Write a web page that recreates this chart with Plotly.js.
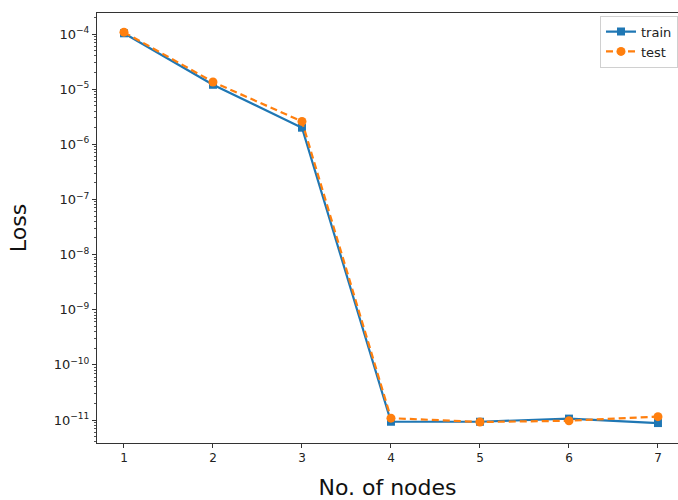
<!DOCTYPE html>
<html>
<head>
<meta charset="utf-8">
<script src="https://cdn.plot.ly/plotly-3.0.1.min.js"></script>
<style>html,body{margin:0;padding:0;background:#fff;}#chart{width:678px;height:500px;}</style>
</head>
<body>
<div id="chart"></div>
<script>
const nodes = [1, 2, 3, 4, 5, 6, 7];
const trainLoss = [1.03e-4, 1.2e-5, 2.0e-6, 9.3e-12, 9.3e-12, 1.06e-11, 8.8e-12];
const testLoss = [1.08e-4, 1.35e-5, 2.6e-6, 1.08e-11, 9.2e-12, 9.7e-12, 1.15e-11];
const xTicks = [1, 2, 3, 4, 5, 6, 7];
const yTickVals = [1e-11, 1e-10, 1e-9, 1e-8, 1e-7, 1e-6, 1e-5, 1e-4];
const yTickText = ['10<sup>\u221211</sup>', '10<sup>\u221210</sup>', '10<sup>\u22129</sup>',
  '10<sup>\u22128</sup>', '10<sup>\u22127</sup>', '10<sup>\u22126</sup>',
  '10<sup>\u22125</sup>', '10<sup>\u22124</sup>'];
const decades = [-12, -11, -10, -9, -8, -7, -6, -5, -4];
const minorDigits = [2, 3, 4, 5, 6, 7, 8, 9];

const minorVals = [];
decades.forEach(d => minorDigits.forEach(m => minorVals.push(m * Math.pow(10, d))));

const traces = [
  {x: nodes, y: trainLoss, name: 'train', type: 'scatter', mode: 'lines+markers',
   line: {color: '#1f77b4', width: 2.2},
   marker: {symbol: 'square', size: 8, color: '#1f77b4'}},
  {x: nodes, y: testLoss, name: 'test', type: 'scatter', mode: 'lines+markers',
   line: {color: '#ff7f0e', width: 2.2, dash: '7px,4px'},
   marker: {symbol: 'circle', size: 9, color: '#ff7f0e'}}
];

const layout = {
  width: 678, height: 500,
  margin: {l: 97, r: 0, t: 13, b: 57},
  paper_bgcolor: '#fff', plot_bgcolor: '#fff',
  font: {family: 'DejaVu Sans', color: '#222', size: 12},
  showlegend: true,
  legend: {x: 1.0, y: 0.994, xanchor: 'right', yanchor: 'top',
           bgcolor: 'rgba(255,255,255,0.8)', bordercolor: '#d0d0d0', borderwidth: 1,
           font: {size: 13, family: 'DejaVu Sans', color: '#222'},
           tracegroupgap: 0, itemwidth: 30},
  xaxis: {
    range: [0.697, 7.225], tickvals: xTicks, ticktext: xTicks.map(String),
    showgrid: false, zeroline: false, showline: true, linecolor: '#333', linewidth: 1,
    mirror: true, ticks: 'outside', ticklen: 4, tickcolor: '#333',
    tickfont: {size: 12},
    title: {text: 'No. of nodes', font: {size: 22, family: 'DejaVu Sans', color: '#111'}, standoff: 18}
  },
  yaxis: {
    type: 'log', range: [-11.417, -3.619], tickmode: 'array', tickvals: yTickVals, ticktext: yTickText,
    showgrid: false, zeroline: false, showline: true, linecolor: '#333', linewidth: 1,
    ticks: 'outside', ticklen: 4, tickcolor: '#333',
    tickfont: {size: 13},
    minor: {tickmode: 'array', tickvals: minorVals, ticks: 'outside', ticklen: 2,
            tickcolor: '#555', showgrid: false},
    title: {text: 'Loss', font: {size: 22, family: 'DejaVu Sans', color: '#111'}, standoff: 20}
  }
};

Plotly.newPlot('chart', traces, layout, {displayModeBar: false, staticPlot: true});
</script>
</body>
</html>
